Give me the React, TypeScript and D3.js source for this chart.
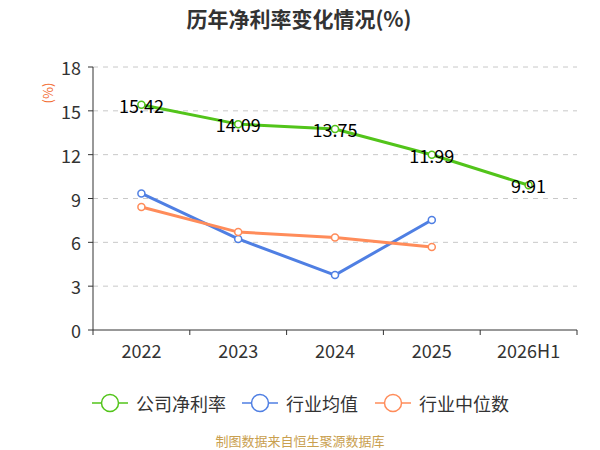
import * as d3 from "d3";

const categories = ["2022", "2023", "2024", "2025", "2026H1"];
const companyRate = [15.42, 14.09, 13.75, 11.99, 9.91];
const industryAvg = [9.35, 6.23, 3.76, 7.53];
const industryMedian = [8.42, 6.7, 6.33, 5.68];
const yTicks = [0, 3, 6, 9, 12, 15, 18];

const series = [
  { name: "公司净利率", values: companyRate, color: "#52c41a", labels: true },
  { name: "行业均值", values: industryAvg, color: "#4f7fe3", labels: false },
  { name: "行业中位数", values: industryMedian, color: "#ff8c5a", labels: false },
];

const width = 600;
const height = 450;
const marginLeft = 93;
const marginRight = 23;
const marginTop = 67;
const marginBottom = 120;
const font = "'Noto Sans CJK SC', 'Noto Sans', sans-serif";

export default function App() {
  const x = d3
    .scaleBand()
    .domain(categories)
    .range([marginLeft, width - marginRight]);
  const y = d3
    .scaleLinear()
    .domain([0, 18])
    .range([height - marginBottom, marginTop]);

  const cx = (i: number) => x(categories[i])! + x.bandwidth() / 2;
  const line = d3
    .line<number>()
    .x((_, i) => cx(i))
    .y((d) => y(d));

  const bottom = height - marginBottom;
  const legendX = [92, 242, 375];

  return (
    <svg
      width={width}
      height={height}
      style={{ position: "absolute", left: 0, top: 0, fontFamily: font }}
    >
      <rect width={width} height={height} fill="#fff" />
      <text
        x={299}
        y={18}
        textAnchor="middle"
        dominantBaseline="central"
        fontSize={21}
        fontWeight="bold"
        fill="#333"
      >
        历年净利率变化情况(%)
      </text>
      <text
        transform={`translate(47,93) rotate(-90)`}
        textAnchor="middle"
        dominantBaseline="central"
        fontSize={13}
        fill="#f26a2e"
      >
        (%)
      </text>

      {yTicks.map((t) => (
        <g key={t}>
          {t > 0 && (
            <line
              x1={marginLeft}
              x2={width - marginRight}
              y1={y(t)}
              y2={y(t)}
              stroke="#c8c8c8"
              strokeDasharray="5 5"
            />
          )}
          <line x1={marginLeft - 5} x2={marginLeft} y1={y(t)} y2={y(t)} stroke="#333" />
          <text
            x={marginLeft - 12}
            y={y(t)}
            textAnchor="end"
            dominantBaseline="central"
            fontSize={18}
            fill="#333"
          >
            {t}
          </text>
        </g>
      ))}
      <line x1={marginLeft} x2={marginLeft} y1={marginTop} y2={bottom} stroke="#333" />
      <line x1={marginLeft} x2={width - marginRight} y1={bottom} y2={bottom} stroke="#333" />
      {categories.map((c, i) => (
        <g key={c}>
          <line x1={x(c)!} x2={x(c)!} y1={bottom} y2={bottom + 5} stroke="#333" />
          {i === categories.length - 1 && (
            <line
              x1={x(c)! + x.bandwidth()}
              x2={x(c)! + x.bandwidth()}
              y1={bottom}
              y2={bottom + 5}
              stroke="#333"
            />
          )}
          <text
            x={cx(i)}
            y={bottom + 20}
            textAnchor="middle"
            dominantBaseline="central"
            fontSize={18}
            fill="#333"
          >
            {c}
          </text>
        </g>
      ))}

      {series.map((s) => (
        <g key={s.name}>
          <path d={line(s.values)!} fill="none" stroke={s.color} strokeWidth={3} />
          {s.values.map((v, i) => (
            <circle
              key={i}
              cx={cx(i)}
              cy={y(v)}
              r={3.5}
              fill="#fff"
              stroke={s.color}
              strokeWidth={1.5}
            />
          ))}
        </g>
      ))}
      {series
        .filter((s) => s.labels)
        .map((s) =>
          s.values.map((v, i) => (
            <text
              key={s.name + i}
              x={cx(i)}
              y={y(v)}
              textAnchor="middle"
              dominantBaseline="central"
              fontSize={18}
              fill="#000"
            >
              {v.toFixed(2)}
            </text>
          ))
        )}

      {series.map((s, i) => (
        <g key={s.name} transform={`translate(${legendX[i]},403)`}>
          <line x1={0} x2={36} y1={0} y2={0} stroke={s.color} strokeWidth={1.5} />
          <circle cx={18} cy={0} r={8.5} fill="#fff" stroke={s.color} strokeWidth={1.5} />
          <text x={44} y={0} dominantBaseline="central" fontSize={18} fill="#333">
            {s.name}
          </text>
        </g>
      ))}

      <text
        x={width / 2}
        y={440}
        textAnchor="middle"
        dominantBaseline="central"
        fontSize={13}
        fill="#c9a04f"
      >
        制图数据来自恒生聚源数据库
      </text>
    </svg>
  );
}
